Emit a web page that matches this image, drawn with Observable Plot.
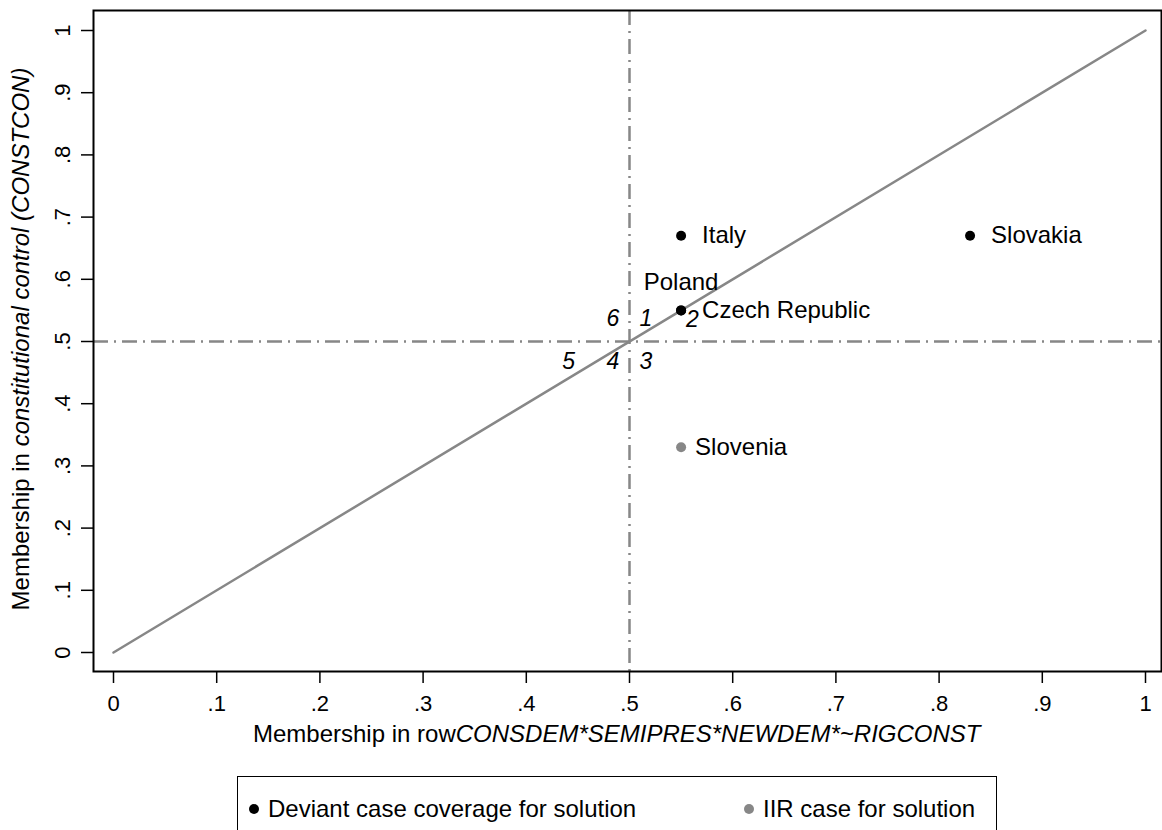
<!DOCTYPE html>
<html>
<head>
<meta charset="utf-8">
<script src="https://cdn.jsdelivr.net/npm/d3@7"></script>
<script src="https://cdn.jsdelivr.net/npm/@observablehq/plot@0.6"></script>
<style>
  html, body { margin: 0; padding: 0; background: #fff; }
  body { width: 1162px; height: 830px; overflow: hidden; position: relative;
         font-family: "Liberation Sans", Arial, Helvetica, sans-serif; }
  #chart svg { display: block; }
  #legend { position: absolute; left: 237px; top: 776px; width: 760px; height: 70px;
            border: 1.5px solid #000; border-bottom: none; box-sizing: border-box; }
  .key { position: absolute; top: 27px; width: 10px; height: 10px; border-radius: 50%; }
  .lab { position: absolute; top: 18px; font-size: 24px; line-height: 28px; color: #000; white-space: nowrap; }
</style>
</head>
<body>
<div id="chart"></div>
<div id="legend"></div>
<script>
// ---- data ----
const tickValues = [0, 0.1, 0.2, 0.3, 0.4, 0.5, 0.6, 0.7, 0.8, 0.9, 1];
const tickLabels = ["0", ".1", ".2", ".3", ".4", ".5", ".6", ".7", ".8", ".9", "1"];

const countries   = ["Italy", "Slovakia", "Poland", "Czech Republic", "Slovenia"];
const xMembership = [0.55, 0.83, 0.55, 0.55, 0.55];
const yMembership = [0.67, 0.67, 0.55, 0.55, 0.33];
const caseGroup   = ["Deviant case coverage for solution", "Deviant case coverage for solution",
                     "Deviant case coverage for solution", "Deviant case coverage for solution",
                     "IIR case for solution"];
const legendGroups = ["Deviant case coverage for solution", "IIR case for solution"];

const quadrantLabels = ["1", "2", "3", "4", "5", "6"];
const quadrantX      = [0.516, 0.561, 0.516, 0.484, 0.441, 0.484];
const quadrantY      = [0.537, 0.535, 0.468, 0.468, 0.468, 0.537];

const diagonalX = [0, 1];
const diagonalY = [0, 1];
const referenceX = [0.5];
const referenceY = [0.5];

// ---- build tables ----
const cases = countries.map((name, i) => ({name, x: xMembership[i], y: yMembership[i], group: caseGroup[i]}));
const quadrants = quadrantLabels.map((t, i) => ({t, x: quadrantX[i], y: quadrantY[i]}));
const diagonal = diagonalX.map((x, i) => ({x, y: diagonalY[i]}));
const fmt = d => tickLabels[Math.round(d * 10)];

const BLACK = "#000000", GRAY = "#878787";
const colorOf = g => g === legendGroups[1] ? GRAY : BLACK;
const FONT = "'Liberation Sans', Arial, Helvetica, sans-serif";

const W = 1162, H = 770;
const chart = Plot.plot({
  width: W, height: H,
  marginLeft: 93, marginRight: 1, marginTop: 10, marginBottom: 99,
  x: {domain: [0, 1], insetLeft: 20, insetRight: 16},
  y: {domain: [0, 1], insetTop: 20, insetBottom: 19},
  style: {fontFamily: FONT, fontSize: "22px", color: "#000", background: "#fff", overflow: "visible"},
  marks: [
    Plot.ruleX(referenceX, {x: d => d, stroke: GRAY, strokeWidth: 2.5, strokeDasharray: "15,6,2,6"}),
    Plot.ruleY(referenceY, {y: d => d, stroke: GRAY, strokeWidth: 2.5, strokeDasharray: "15,6,2,6"}),
    Plot.line(diagonal, {x: "x", y: "y", stroke: GRAY, strokeWidth: 2.5}),
    Plot.frame({stroke: "#000", strokeWidth: 2}),
    Plot.axisX({ticks: tickValues, tickFormat: fmt, tickSize: 12, tickPadding: 12,
                strokeWidth: 1.5, fontSize: 22, label: null}),
    Plot.axisY({ticks: tickValues, tickFormat: () => "", tickSize: 12, strokeWidth: 1.5, label: null}),
    Plot.text(tickValues, {y: d => d, text: fmt, frameAnchor: "left", dx: -31, rotate: -90,
                           textAnchor: "middle", lineAnchor: "middle", fontSize: 22, fill: "#000"}),
    Plot.dot(cases, {x: "x", y: "y", r: 5, fill: d => colorOf(d.group), stroke: "none"}),
    Plot.text(cases.filter(d => d.group === legendGroups[0] && d.name !== "Poland"),
              {x: "x", y: "y", text: "name", textAnchor: "start", dx: 21, fontSize: 24, fill: "#000"}),
    Plot.text(cases.filter(d => d.name === "Poland"),
              {x: "x", y: "y", text: "name", dy: -28, fontSize: 24, fill: "#000"}),
    Plot.text(cases.filter(d => d.group === legendGroups[1]),
              {x: "x", y: "y", text: "name", textAnchor: "start", dx: 14, fontSize: 24, fill: "#000"}),
    Plot.text(quadrants, {x: "x", y: "y", text: "t", fontSize: 23, fontStyle: "italic", fill: "#000"})
  ]
});
document.getElementById("chart").appendChild(chart);

// ---- axis titles with mixed italic (real text) ----
const svg = d3.select(chart);
const xt = svg.append("text")
  .attr("x", 253).attr("y", 742)
  .attr("text-anchor", "start")
  .attr("font-family", FONT).attr("font-size", 24).attr("fill", "#000");
xt.append("tspan").text("Membership in row");
xt.append("tspan").attr("font-style", "italic").text("CONSDEM*SEMIPRES*NEWDEM*~RIGCONST");

const yt = svg.append("text")
  .attr("transform", "translate(29,339) rotate(-90)")
  .attr("text-anchor", "middle")
  .attr("font-family", FONT).attr("font-size", 24).attr("fill", "#000");
yt.append("tspan").text("Membership in ");
yt.append("tspan").attr("font-style", "italic").text("constitutional control (CONSTCON)");

// ---- legend (HTML, below the svg) ----
const legend = document.getElementById("legend");
const keyX = [11, 506], labX = [30, 525];
legendGroups.forEach((g, i) => {
  const k = document.createElement("div");
  k.className = "key"; k.style.left = keyX[i] + "px"; k.style.background = colorOf(g);
  legend.appendChild(k);
  const l = document.createElement("div");
  l.className = "lab"; l.style.left = labX[i] + "px"; l.textContent = g;
  legend.appendChild(l);
});
</script>
</body>
</html>
